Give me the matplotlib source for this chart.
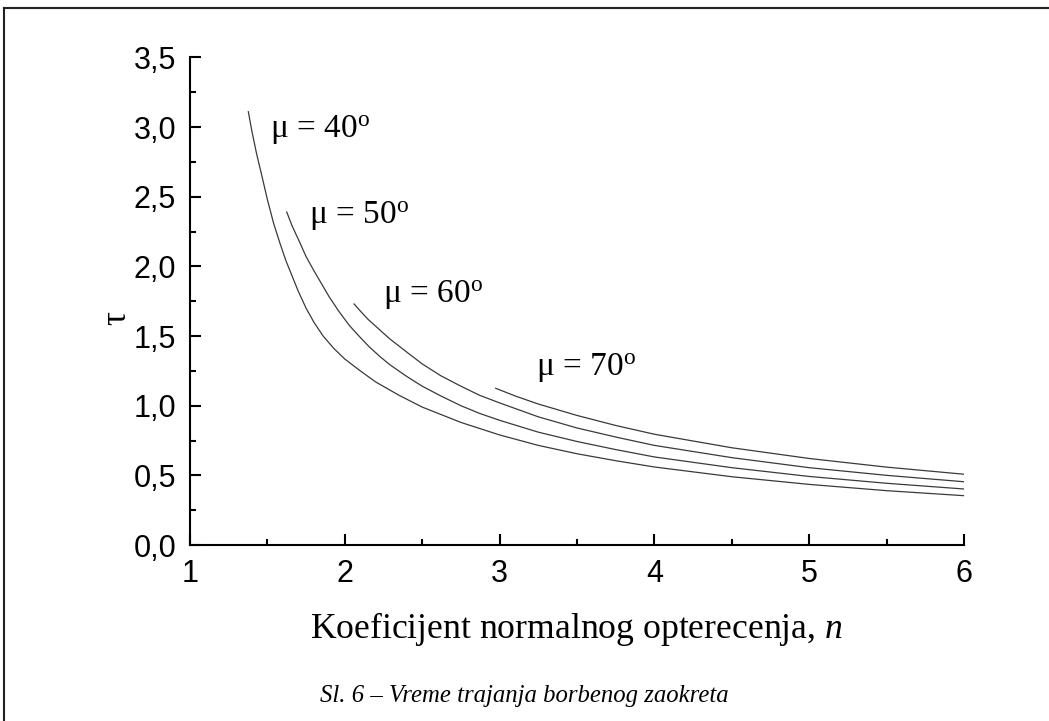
import matplotlib.pyplot as plt
from matplotlib.lines import Line2D
from matplotlib.ticker import MultipleLocator, FuncFormatter

# values (n, tau) for each turn angle
n_40 = [1.377, 1.40, 1.43, 1.46, 1.50, 1.54, 1.58, 1.62, 1.66, 1.70, 1.75, 1.80, 1.86, 1.93, 2.0,
        2.1, 2.2, 2.35, 2.5, 2.75, 3.0, 3.25, 3.5, 3.75, 4.0, 4.5, 5.0, 5.5, 6.0]
tau_40 = [3.11, 2.97, 2.81, 2.67, 2.48, 2.31, 2.17, 2.04, 1.93, 1.82, 1.70, 1.60, 1.50, 1.41, 1.335,
          1.25, 1.17, 1.075, 0.99, 0.88, 0.79, 0.715, 0.655, 0.605, 0.56, 0.49, 0.435, 0.39, 0.354]

n_50 = [1.625, 1.66, 1.71, 1.75, 1.80, 1.85, 1.90, 1.96, 2.03, 2.10, 2.16, 2.23, 2.29, 2.4, 2.5,
        2.62, 2.75, 2.87, 3.0, 3.25, 3.5, 3.75, 4.0, 4.5, 5.0, 5.5, 6.0]
tau_50 = [2.39, 2.29, 2.17, 2.07, 1.97, 1.875, 1.78, 1.68, 1.575, 1.49, 1.42, 1.35, 1.295, 1.21, 1.14,
          1.07, 1.00, 0.945, 0.895, 0.81, 0.743, 0.685, 0.632, 0.555, 0.492, 0.443, 0.402]

n_60 = [2.06, 2.10, 2.15, 2.22, 2.29, 2.4, 2.5, 2.62, 2.75, 2.87, 3.0, 3.25, 3.5, 3.75, 4.0,
        4.5, 5.0, 5.5, 6.0]
tau_60 = [1.73, 1.68, 1.62, 1.55, 1.48, 1.385, 1.30, 1.215, 1.14, 1.075, 1.02, 0.92, 0.84, 0.775, 0.715,
          0.627, 0.555, 0.50, 0.454]

n_70 = [2.975, 3.1, 3.25, 3.5, 3.75, 4.0, 4.5, 5.0, 5.5, 6.0]
tau_70 = [1.125, 1.07, 1.012, 0.93, 0.858, 0.795, 0.698, 0.621, 0.559, 0.508]

mu_labels = ['40', '50', '60', '70']
label_n = [1.52, 1.77, 2.245, 3.235]
label_tau = [2.98, 2.36, 1.795, 1.27]

plt.rcParams['mathtext.fontset'] = 'custom'
plt.rcParams['mathtext.rm'] = 'Liberation Serif'
plt.rcParams['mathtext.it'] = 'Liberation Serif:italic'

fig = plt.figure(figsize=(10.49, 7.21), dpi=100)
ax = fig.add_axes([0.1811, 0.2441, 0.7379, 0.6763])

for xs, ys in [(n_40, tau_40), (n_50, tau_50), (n_60, tau_60), (n_70, tau_70)]:
    ax.plot(xs, ys, color='#3a3a3a', lw=0.9)

for m, x, y in zip(mu_labels, label_n, label_tau):
    ax.text(x, y, 'μ = ' + m + r'$^{\mathrm{o}}$', fontsize=24,
            family='Liberation Serif', ha='left', va='center')

ax.set_xlim(1, 6)
ax.set_ylim(0, 3.5)
ax.xaxis.set_major_locator(MultipleLocator(1))
ax.xaxis.set_minor_locator(MultipleLocator(0.5))
ax.yaxis.set_major_locator(MultipleLocator(0.5))
ax.yaxis.set_minor_locator(MultipleLocator(0.25))
ax.yaxis.set_major_formatter(FuncFormatter(lambda v, p: f'{v:.1f}'.replace('.', ',')))
ax.xaxis.set_major_formatter(FuncFormatter(lambda v, p: f'{v:.0f}'))

for s in ['top', 'right']:
    ax.spines[s].set_visible(False)
for s in ['left', 'bottom']:
    ax.spines[s].set_linewidth(1.5)

ax.tick_params(which='major', direction='in', length=8, width=1.5, pad=10,
               labelsize=22, labelfontfamily='Liberation Sans')
ax.tick_params(which='minor', direction='in', length=4.5, width=1.5)

fig.text(0.5496, 0.1151, r'Koeficijent normalnog opterecenja, $n$', fontsize=25.7,
         family='Liberation Serif', ha='center', va='baseline')
fig.text(0.1115, 0.559, 'τ', fontsize=25, family='Liberation Serif',
         rotation=90, ha='center', va='center')
fig.text(0.5, 0.0268, 'Sl. 6 – Vreme trajanja borbenog zaokreta', fontsize=17.8,
         family='Liberation Serif', style='italic', ha='center', va='baseline')

# page frame (top and left edges)
fig.add_artist(Line2D([4 / 1049, 1], [1 - 8 / 721, 1 - 8 / 721], color='#222222', lw=1.5))
fig.add_artist(Line2D([4 / 1049, 4 / 1049], [0, 1 - 8 / 721], color='#222222', lw=1.5))

plt.savefig('out.png', dpi=100)
